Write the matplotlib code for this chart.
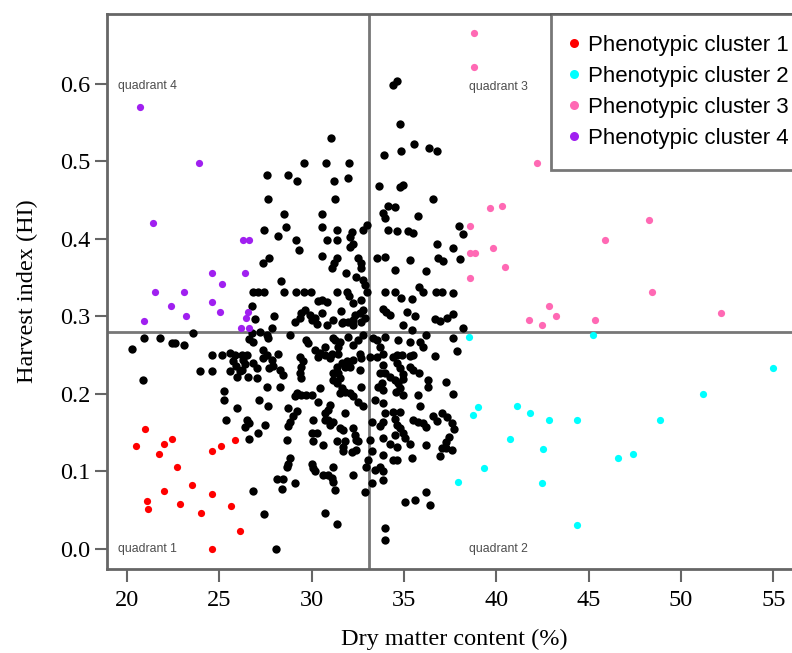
import matplotlib
matplotlib.use("Agg")
import matplotlib.pyplot as plt
from matplotlib.lines import Line2D

# ---------------- data ----------------
black_pts = [
    # upper area (HI >= 0.40)
    (31.05,0.530),(29.6,0.498),(30.77,0.498),(32.05,0.498),(27.56,0.482),(28.73,0.482),(29.19,0.475),
    (31.2,0.475),(31.98,0.478),(27.65,0.452),(31.26,0.452),(28.52,0.432),(30.54,0.432),(27.43,0.411),
    (28.59,0.415),(30.54,0.415),(31.35,0.411),(32.16,0.409),(28.2,0.404),(32.8,0.412),(33.0,0.418),(32.07,0.403),
    (34.42,0.599),(34.6,0.604),(34.78,0.548),(33.93,0.508),(34.82,0.513),(35.54,0.522),(36.37,0.517),
    (36.8,0.513),(33.66,0.468),(34.78,0.467),(34.96,0.47),(36.55,0.452),(34.15,0.442),(34.51,0.441),
    (33.88,0.433),(33.97,0.427),(35.77,0.429),(34.15,0.412),(34.6,0.41),(35.23,0.41),(35.5,0.407),
    (37.97,0.416),(38.2,0.406),
    # upper-left of centre
    (29.15,0.398),(30.86,0.398),(31.35,0.398),(32.22,0.394),(32.07,0.390),(29.33,0.385),(30.56,0.378),
    (27.38,0.369),(27.7,0.375),(31.22,0.369),(31.35,0.375),(31.08,0.362),(32.49,0.375),(32.7,0.369),
    (32.65,0.362),(31.84,0.356),(32.4,0.351),(32.8,0.347),(32.89,0.34),(32.98,0.332),(28.34,0.345),
    (28.52,0.332),(26.8,0.332),(27.1,0.332),(27.4,0.332),(29.15,0.332),(29.6,0.332),(29.96,0.332),
    (31.35,0.332),(31.9,0.332),(32.0,0.326),(26.75,0.313),(26.95,0.297),(27.96,0.301),(30.32,0.32),
    (30.54,0.321),(30.86,0.318),(31.6,0.307),(32.22,0.317),(32.7,0.321),(32.8,0.308),(32.36,0.302),
    (32.6,0.304),(32.89,0.298),(29.1,0.293),(29.45,0.304),(29.64,0.308),(29.91,0.302),(30.0,0.295),
    (30.18,0.298),(30.54,0.304),(31.17,0.295),(31.71,0.293),(31.98,0.293),(32.25,0.289),(32.7,0.293),
    (30.3,0.29),(30.86,0.289),(31.62,0.291),(27.83,0.285),(29.37,0.298),(32.25,0.295),
    # upper-right of centre
    (33.52,0.375),(33.97,0.376),(34.51,0.36),(33.97,0.332),(34.51,0.332),(33.88,0.31),(34.05,0.306),
    (34.24,0.302),(36.77,0.394),(37.63,0.388),(35.32,0.373),(36.85,0.375),(37.12,0.371),(38.06,0.374),
    (36.17,0.358),(34.82,0.324),(35.41,0.322),(35.83,0.338),(36.05,0.332),(36.73,0.332),(37.04,0.332),
    (37.67,0.330),(35.14,0.306),(35.59,0.301),(36.68,0.296),(36.95,0.294),(37.31,0.298),(37.63,0.303),
    (38.21,0.285),(34.96,0.289),(35.41,0.283),
    # lower-left
    (20.25,0.258),(20.92,0.272),(20.85,0.218),(21.79,0.272),(22.42,0.266),(22.6,0.266),(23.07,0.263),
    (23.59,0.279),(23.95,0.230),(24.6,0.230),(24.6,0.250),(25.13,0.250),(25.58,0.253),(25.58,0.23),
    (25.27,0.204),(25.27,0.192),(25.34,0.166),
    (25.85,0.25),(25.76,0.243),(25.97,0.222),(26.12,0.23),(25.93,0.236),(26.24,0.25),(26.48,0.25),
    (26.3,0.244),(26.4,0.238),(26.21,0.231),(26.62,0.271),(26.84,0.267),(26.75,0.278),(26.84,0.24),
    (26.57,0.222),(27.02,0.22),(27.02,0.233),(27.2,0.28),(27.56,0.276),(27.65,0.272),(27.38,0.257),
    (27.56,0.25),(27.83,0.244),(27.38,0.246),(27.71,0.233),(27.92,0.236),(28.2,0.252),(28.28,0.231),
    (28.47,0.224),(28.82,0.276),(29.72,0.27),(29.82,0.266),(29.37,0.248),(29.55,0.242),(29.45,0.235),
    (29.37,0.227),(29.45,0.22),(30.18,0.257),(30.36,0.248),(30.45,0.253),(30.72,0.261),(30.72,0.25),
    (31.08,0.252),(30.99,0.246),(31.44,0.252),(31.44,0.261),(31.26,0.27),(31.53,0.267),(31.17,0.272),
    (31.98,0.274),(32.25,0.263),(32.52,0.27),(32.8,0.276),(32.61,0.252),(32.7,0.246),(31.35,0.235),
    (31.62,0.24),(31.44,0.227),(31.17,0.227),(31.53,0.22),(31.17,0.218),(31.9,0.242),(32.25,0.244),
    (32.61,0.231),(32.07,0.235),(31.8,0.235),(31.35,0.214),(31.62,0.207),(31.8,0.203),(31.53,0.201),
    (32.07,0.201),(32.25,0.197),(32.52,0.19),(32.8,0.184),(32.7,0.209),(29.1,0.197),(29.45,0.199),
    (29.72,0.199),(30.0,0.199),(30.45,0.207),(30.36,0.19),(30.99,0.186),(27.15,0.192),(27.56,0.209),
    (28.28,0.209),(27.65,0.184),(29.19,0.201),(28.73,0.182),(25.94,0.182),
    (26.48,0.166),(26.62,0.162),(26.39,0.157),(26.62,0.142),(27.07,0.149),(27.5,0.160),
    (29.2,0.178),(29.0,0.171),(28.82,0.164),(28.7,0.159),(28.64,0.141),(28.82,0.117),(28.73,0.11),
    (28.64,0.106),(30.09,0.166),(30.0,0.149),(30.27,0.149),(30.72,0.175),(30.9,0.179),(30.72,0.166),
    (30.9,0.166),(30.99,0.160),(31.17,0.164),(31.8,0.175),(31.53,0.156),(31.71,0.154),(32.25,0.156),
    (30.09,0.139),(30.63,0.134),(31.35,0.139),(31.8,0.139),(31.71,0.132),(31.71,0.126),(32.52,0.139),
    (32.34,0.147),(32.43,0.141),(32.16,0.125),(32.43,0.128),
    (30.0,0.11),(30.09,0.104),(30.18,0.1),(30.63,0.095),(30.9,0.095),(31.08,0.091),(31.17,0.087),
    (31.26,0.076),(31.17,0.106),(32.25,0.095),(29.1,0.085),(28.1,0.09),(28.47,0.09),(28.38,0.077),
    (26.84,0.075),(27.43,0.045),(30.75,0.046),(31.35,0.032),(28.07,0.0),(32.89,0.073),(32.97,0.106),
    # lower-right
    (33.34,0.272),(33.52,0.27),(33.97,0.274),(33.7,0.261),(33.88,0.252),(33.52,0.248),(33.16,0.248),
    (33.88,0.237),(33.7,0.227),(33.61,0.209),(33.79,0.214),(33.88,0.205),(33.97,0.227),(34.24,0.222),
    (34.51,0.218),(34.42,0.248),(34.6,0.25),(34.87,0.25),(34.69,0.27),(34.6,0.24),(34.78,0.233),
    (34.96,0.226),(35.32,0.235),(35.5,0.231),(35.83,0.227),(34.96,0.219),(34.69,0.214),(34.78,0.208),
    (34.55,0.202),(35.32,0.249),(35.5,0.25),(35.32,0.267),(35.86,0.267),(36.04,0.261),(36.22,0.276),
    (36.68,0.249),(36.31,0.218),(36.31,0.209),(37.27,0.215),(37.67,0.272),(37.85,0.256),(37.67,0.2),
    (33.43,0.192),(33.88,0.188),(33.97,0.175),(34.42,0.177),(34.78,0.177),(34.96,0.199),(35.77,0.199),
    (35.86,0.184),(33.25,0.164),(33.88,0.164),(34.6,0.16),(34.51,0.168),
    (35.5,0.166),(35.77,0.164),(36.04,0.162),(36.22,0.157),(36.59,0.171),(36.8,0.165),(37.08,0.175),
    (37.35,0.17),(37.58,0.163),(37.72,0.155),(37.45,0.145),(37.26,0.138),(37.08,0.13),(36.95,0.12),
    (37.25,0.13),(37.62,0.128),
    (33.16,0.141),(33.88,0.143),(34.24,0.136),(34.51,0.147),(34.96,0.149),(35.05,0.143),(35.32,0.136),
    (36.22,0.134),(34.78,0.156),(33.25,0.126),(33.07,0.115),(33.88,0.121),(34.42,0.115),(34.6,0.115),
    (35.41,0.117),(33.43,0.102),(33.88,0.1),(33.88,0.089),(33.25,0.085),(35.05,0.061),(35.59,0.063),
    (36.22,0.074),(36.4,0.057),(33.95,0.027),(33.95,0.012),(33.7,0.158),(34.6,0.132),(33.7,0.106),
]
black_x = [p[0] for p in black_pts]
black_y = [p[1] for p in black_pts]

cluster1_x = [20.47,20.99,21.72,22.0,22.45,22.72,23.5,22.0,21.07,21.15,22.89,24.02,24.6,25.63,24.6,25.1,25.85,26.13,24.6]
cluster1_y = [0.133,0.155,0.123,0.135,0.142,0.106,0.083,0.075,0.0615,0.0516,0.0577,0.047,0.071,0.0555,0.127,0.133,0.140,0.023,0.0]

cluster2_x = [38.5,45.23,55.01,51.17,48.86,39.0,38.72,41.1,41.84,42.86,44.36,40.75,42.54,39.31,37.9,42.49,46.6,47.41,44.36]
cluster2_y = [0.274,0.276,0.234,0.200,0.166,0.183,0.173,0.185,0.175,0.166,0.166,0.142,0.129,0.105,0.087,0.0855,0.117,0.123,0.031]

cluster3_x = [38.8,38.8,42.2,39.67,40.32,48.29,45.89,38.57,39.82,38.55,38.85,40.47,38.57,48.42,42.85,52.18,41.77,43.23,45.32,42.49]
cluster3_y = [0.665,0.622,0.498,0.440,0.442,0.424,0.398,0.416,0.388,0.382,0.382,0.364,0.350,0.332,0.314,0.304,0.295,0.300,0.295,0.289]

cluster4_x = [20.7,23.88,21.43,26.3,26.6,24.6,26.4,25.13,21.5,23.09,22.38,24.6,23.19,25.04,26.55,26.45,20.92,26.2,26.6]
cluster4_y = [0.570,0.498,0.420,0.399,0.399,0.356,0.356,0.342,0.332,0.332,0.314,0.318,0.301,0.306,0.306,0.298,0.294,0.285,0.285]

cluster_labels = ["Phenotypic cluster 1", "Phenotypic cluster 2", "Phenotypic cluster 3", "Phenotypic cluster 4"]
cluster_colors = ["#FF0000", "#00FFFF", "#FF69B4", "#A020F0"]

x_cut = 33.1     # vertical reference line (mean dry matter)
y_cut = 0.28     # horizontal reference line (mean HI)

x_ticks = [20, 25, 30, 35, 40, 45, 50, 55]
y_ticks = [0.0, 0.1, 0.2, 0.3, 0.4, 0.5, 0.6]
y_tick_labels = ["0.0", "0.1", "0.2", "0.3", "0.4", "0.5", "0.6"]

quadrant_text = ["quadrant 1", "quadrant 2", "quadrant 3", "quadrant 4"]
quadrant_pos = [(19.5, 0.0), (38.5, 0.0), (38.5, 0.596), (19.5, 0.597)]

# ---------------- figure ----------------
W, H = 792, 653
fig = plt.figure(figsize=(W / 100, H / 100), dpi=100)
ax_left, ax_right, ax_top, ax_bottom = 107, 801, 14, 569
ax = fig.add_axes([ax_left / W, 1 - ax_bottom / H, (ax_right - ax_left) / W, (ax_bottom - ax_top) / H])
ax.set_xlim(18.92, 56.5)
ax.set_ylim(-0.0258, 0.690)

serif = ["Liberation Serif", "DejaVu Serif"]
sans = ["Liberation Sans", "DejaVu Sans"]

ax.scatter(black_x, black_y, s=36, c="black", linewidths=0, zorder=3)
for xs, ys, col, lab in zip([cluster1_x, cluster2_x, cluster3_x, cluster4_x],
                             [cluster1_y, cluster2_y, cluster3_y, cluster4_y],
                             cluster_colors, cluster_labels):
    ax.scatter(xs, ys, s=27, c=col, linewidths=0, zorder=3, label=lab)

ax.axvline(x_cut, color="#777777", lw=2, zorder=2)
ax.axhline(y_cut, color="#777777", lw=2, zorder=2)

for txt, (qx, qy) in zip(quadrant_text, quadrant_pos):
    ax.text(qx, qy, txt, fontsize=8.8, color="#4d4d4d", family=sans, ha="left", va="center")

for sp in ax.spines.values():
    sp.set_color("#666666")
    sp.set_linewidth(2)

ax.set_xticks(x_ticks)
ax.set_xticklabels([str(t) for t in x_ticks], fontfamily=serif, fontsize=17.5)
ax.set_yticks(y_ticks)
ax.set_yticklabels(y_tick_labels, fontfamily=serif, fontsize=17.5)
ax.tick_params(axis="both", direction="out", length=9, width=1.5, color="#666666", labelcolor="black")
ax.tick_params(axis="x", pad=6)
ax.tick_params(axis="y", pad=3)

ax.set_xlabel("Dry matter content (%)", fontfamily=serif, fontsize=17.5, labelpad=13)
ax.set_ylabel("Harvest index (HI)", fontfamily=serif, fontsize=17.5, labelpad=16)

handles = [Line2D([], [], marker="o", linestyle="none", markersize=6.5, markerfacecolor=c,
                  markeredgewidth=0, label=l) for c, l in zip(cluster_colors, cluster_labels)]
leg = ax.legend(handles=handles, loc="upper left", bbox_to_anchor=((551 - ax_left) / (ax_right - ax_left), 1.0),
                prop={"family": sans, "size": 16}, frameon=True, fancybox=False, borderpad=0.95,
                handlelength=0.2, handletextpad=0.5, labelspacing=0.45, borderaxespad=0.0)
leg.get_frame().set_edgecolor("#555555")
leg.get_frame().set_linewidth(2)
leg.set_zorder(5)

fig.savefig("out.png", dpi=100)
